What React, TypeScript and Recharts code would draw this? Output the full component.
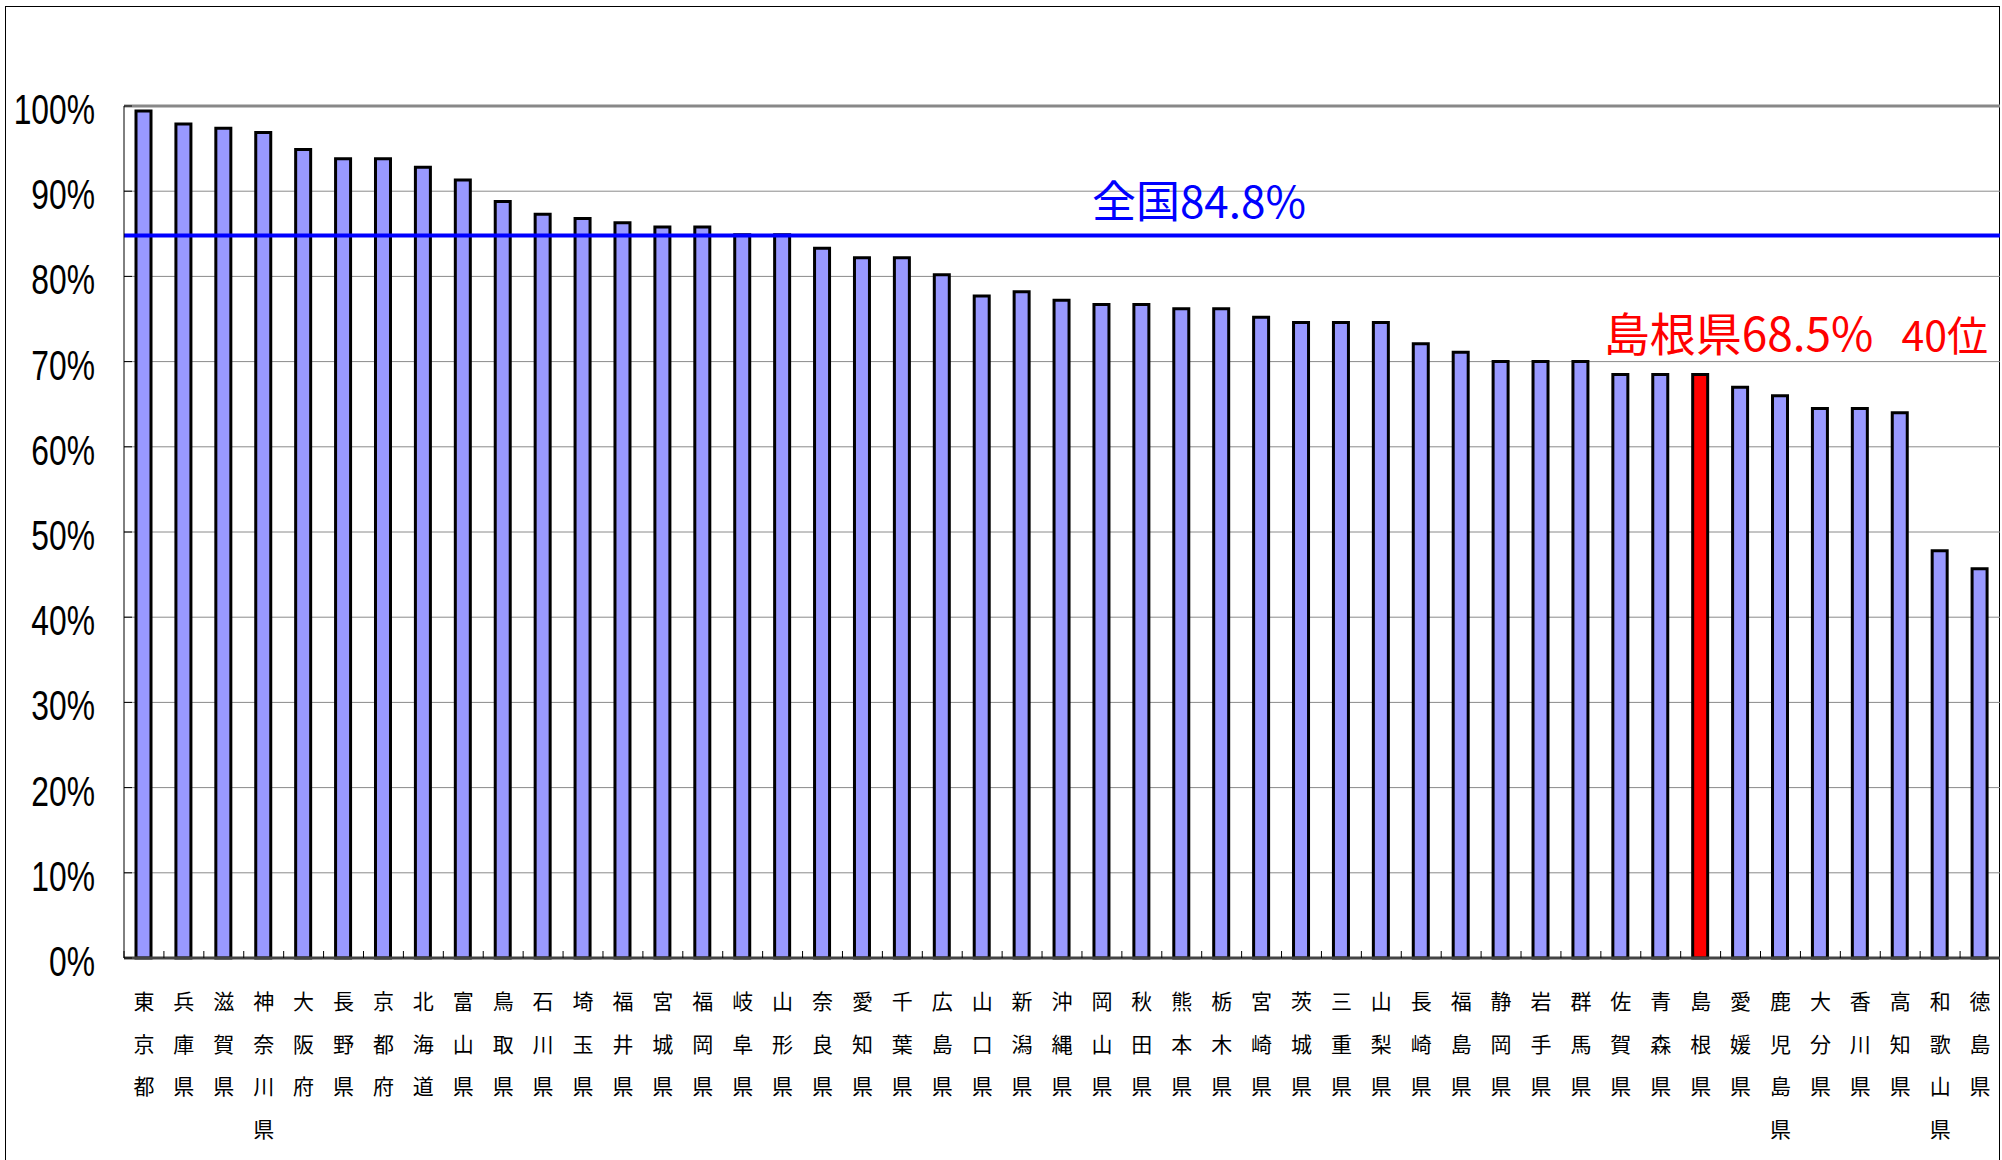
import React from 'react';
import { BarChart, Bar, XAxis, YAxis, CartesianGrid, ReferenceLine, ReferenceDot, Cell } from 'recharts';

const prefectures = [
  '東京都', '兵庫県', '滋賀県', '神奈川県', '大阪府', '長野県', '京都府', '北海道', '富山県', '鳥取県',
  '石川県', '埼玉県', '福井県', '宮城県', '福岡県', '岐阜県', '山形県', '奈良県', '愛知県', '千葉県',
  '広島県', '山口県', '新潟県', '沖縄県', '岡山県', '秋田県', '熊本県', '栃木県', '宮崎県', '茨城県',
  '三重県', '山梨県', '長崎県', '福島県', '静岡県', '岩手県', '群馬県', '佐賀県', '青森県', '島根県',
  '愛媛県', '鹿児島県', '大分県', '香川県', '高知県', '和歌山県', '徳島県',
];

const rates = [
  99.4, 97.9, 97.4, 96.9, 94.9, 93.8, 93.8, 92.8, 91.3, 88.8,
  87.3, 86.8, 86.3, 85.8, 85.8, 84.9, 84.9, 83.3, 82.2, 82.2,
  80.2, 77.7, 78.2, 77.2, 76.7, 76.7, 76.2, 76.2, 75.2, 74.6,
  74.6, 74.6, 72.1, 71.1, 70.0, 70.0, 70.0, 68.5, 68.5, 68.5,
  67.0, 66.0, 64.5, 64.5, 64.0, 47.8, 45.7,
];

const yTicks = [0, 10, 20, 30, 40, 50, 60, 70, 80, 90, 100];

const nationalRate = 84.8;
const nationalName = '全国';
const highlightName = '島根県';
const highlightRate = 68.5;
const highlightRank = '40位';

const data = prefectures.map((name, i) => ({ name, value: rates[i] }));

const CJK = '"Noto Sans CJK JP", "Noto Sans", sans-serif';
const LATIN = '"Liberation Sans", Arial, sans-serif';

const XTick = (props: any) => {
  const { x, y, payload, width } = props;
  const chars = Array.from(String(payload.value));
  const half = width && width > 200 ? width / prefectures.length / 2 : 20;
  return (
    <g>
      <line x1={x - half} x2={x - half} y1={y} y2={y - 7} stroke="#000" strokeWidth={1} />
      <text textAnchor="middle" fontSize={21} fontFamily={CJK} fill="#000">
        {chars.map((c, i) => (
          <tspan key={i} x={x} y={y + 51 + i * 42.5}>{c}</tspan>
        ))}
      </text>
    </g>
  );
};

const YTick = (props: any) => {
  const { x, y, payload } = props;
  return (
    <g>
      <line x1={x + 29} x2={x + 37} y1={y} y2={y} stroke="#000" strokeWidth={1} />
      <text
        transform={`translate(${x},${y + 18}) scale(0.74,1)`}
        textAnchor="end"
        fontSize={43}
        fontFamily={LATIN}
        fill="#000"
      >
        {payload.value}%
      </text>
    </g>
  );
};

const NationalLabel = (props: any) => {
  const { viewBox } = props;
  const x = viewBox.x + viewBox.width * 0.573;
  return (
    <text x={x} y={viewBox.y - 18} textAnchor="middle" fill="#0000ff" fontSize={44} fontFamily={CJK}>
      {nationalName}{nationalRate}%
    </text>
  );
};

const HighlightLabel = (props: any) => {
  const { viewBox } = props;
  const cx = viewBox.x + (viewBox.width || 0) / 2;
  const cy = viewBox.y + (viewBox.height || 0) / 2;
  return (
    <text x={cx - 97} y={cy - 23} textAnchor="start" fill="#ff0000" fontFamily={CJK}>
      <tspan fontSize={46}>{highlightName}{highlightRate}%</tspan>
      <tspan fontSize={41} dx={28}>{highlightRank}</tspan>
    </text>
  );
};

export default function App() {
  return (
    <div style={{ position: 'fixed', left: 0, top: 0, width: 2002, height: 1160, overflow: 'hidden', background: '#fff' }}>
      <div
        style={{
          position: 'absolute', left: 5, top: 6, width: 1993, height: 1160,
          borderTop: '1px solid #000', borderLeft: '1px solid #000', borderRight: '1px solid #000',
        }}
      />
      <div style={{ position: 'absolute', left: 0, top: 0 }}>
        <BarChart
          width={2002}
          height={1160}
          data={data}
          margin={{ top: 106, right: 2, bottom: 0, left: 0 }}
          barCategoryGap={0}
        >
          <CartesianGrid vertical={false} stroke="#8a8a8a" strokeWidth={1} />
          <XAxis
            dataKey="name"
            interval={0}
            tickLine={false}
            tickSize={0}
            tickMargin={0}
            height={202}
            axisLine={{ stroke: '#444', strokeWidth: 3 }}
            tick={<XTick />}
          />
          <YAxis
            type="number"
            domain={[0, 100]}
            ticks={yTicks}
            interval={0}
            width={124}
            tickLine={false}
            tickSize={0}
            tickMargin={29}
            axisLine={{ stroke: '#000', strokeWidth: 1 }}
            tick={<YTick />}
          />
          <ReferenceLine y={100} stroke="#888" strokeWidth={3} />
          <Bar dataKey="value" barSize={15} stroke="#000" strokeWidth={3} isAnimationActive={false}>
            {data.map((d) => (
              <Cell key={d.name} fill={d.name === highlightName ? '#ff0000' : '#9999ff'} />
            ))}
          </Bar>
          <ReferenceLine y={nationalRate} stroke="#0000ff" strokeWidth={4} label={<NationalLabel />} />
          <ReferenceDot
            x={highlightName}
            y={highlightRate}
            r={0}
            fill="none"
            stroke="none"
            label={<HighlightLabel />}
          />
        </BarChart>
      </div>
    </div>
  );
}
